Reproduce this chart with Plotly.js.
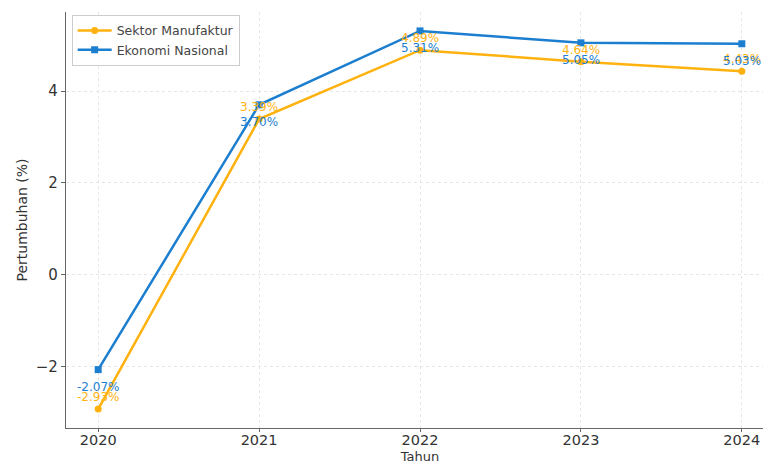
<!DOCTYPE html>
<html>
<head>
<meta charset="utf-8">
<script src="https://cdn.plot.ly/plotly-3.0.1.min.js"></script>
<style>html,body{margin:0;padding:0;overflow:hidden;background:#fff;}</style>
</head>
<body>
<div id="chart" style="width:775px;height:464px;"></div>
<script>
const years = [2020, 2021, 2022, 2023, 2024];
const manufaktur = [-2.93, 3.39, 4.89, 4.64, 4.43];
const nasional = [-2.07, 3.70, 5.31, 5.05, 5.03];
const seriesNames = ["Sektor Manufaktur", "Ekonomi Nasional"];
const yTicks = [-2, 0, 2, 4];

const orange = "#FFB20F";
const blue = "#1C7ECF";
const fmt = v => v.toFixed(2) + "%";

const traces = [
  {x: years, y: manufaktur, name: seriesNames[0], mode: "lines+markers",
   line: {color: orange, width: 2.5}, marker: {symbol: "circle", size: 7, color: orange}},
  {x: years, y: nasional, name: seriesNames[1], mode: "lines+markers",
   line: {color: blue, width: 2.5}, marker: {symbol: "square", size: 7, color: blue}}
];

const annotations = [];
years.forEach((yr, i) => {
  annotations.push({x: yr, y: manufaktur[i], xref: "x", yref: "y", text: fmt(manufaktur[i]),
    showarrow: false, xanchor: "center", yanchor: "bottom", yshift: 3,
    font: {family: "DejaVu Sans", size: 12, color: orange}});
});
years.forEach((yr, i) => {
  annotations.push({x: yr, y: nasional[i], xref: "x", yref: "y", text: fmt(nasional[i]),
    showarrow: false, xanchor: "center", yanchor: "top", yshift: -8,
    font: {family: "DejaVu Sans", size: 12, color: blue}});
});

const layout = {
  width: 775, height: 464,
  margin: {l: 66, r: 1, t: 12, b: 36},
  paper_bgcolor: "#fff", plot_bgcolor: "#fff",
  font: {family: "DejaVu Sans", size: 12, color: "#333"},
  showlegend: true,
  annotations: annotations,
  legend: {x: 0.008, y: 0.993, xanchor: "left", yanchor: "top",
    bgcolor: "rgba(255,255,255,0.8)", bordercolor: "#ccc", borderwidth: 1,
    font: {size: 12.5, color: "#444"}, tracegroupgap: 2, itemwidth: 34},
  xaxis: {range: [2019.8, 2024.2], tickvals: years, ticktext: years.map(String),
    showgrid: true, gridcolor: "#e0e0e0", griddash: "3px,3px", gridwidth: 0.8,
    showline: true, linecolor: "#666", linewidth: 1.2, zeroline: false,
    ticks: "outside", ticklen: 3, tickcolor: "#666", ticklabelstandoff: -5,
    tickfont: {size: 14.5, color: "#333"},
    title: {text: "Tahun", font: {size: 13, color: "#333"}, standoff: 6}},
  yaxis: {range: [-3.342, 5.722], tickvals: yTicks, ticktext: yTicks.map(v => v < 0 ? "\u2212" + Math.abs(v) : String(v)),
    showgrid: true, gridcolor: "#e0e0e0", griddash: "3px,3px", gridwidth: 0.8,
    showline: true, linecolor: "#666", linewidth: 1.2, zeroline: false,
    ticks: "outside", ticklen: 4, tickcolor: "#666",
    tickfont: {size: 15, color: "#333"},
    title: {text: "Pertumbuhan (%)", font: {size: 14, color: "#333"}, standoff: 4}}
};

Plotly.newPlot("chart", traces, layout, {displayModeBar: false, staticPlot: true});
</script>
</body>
</html>
